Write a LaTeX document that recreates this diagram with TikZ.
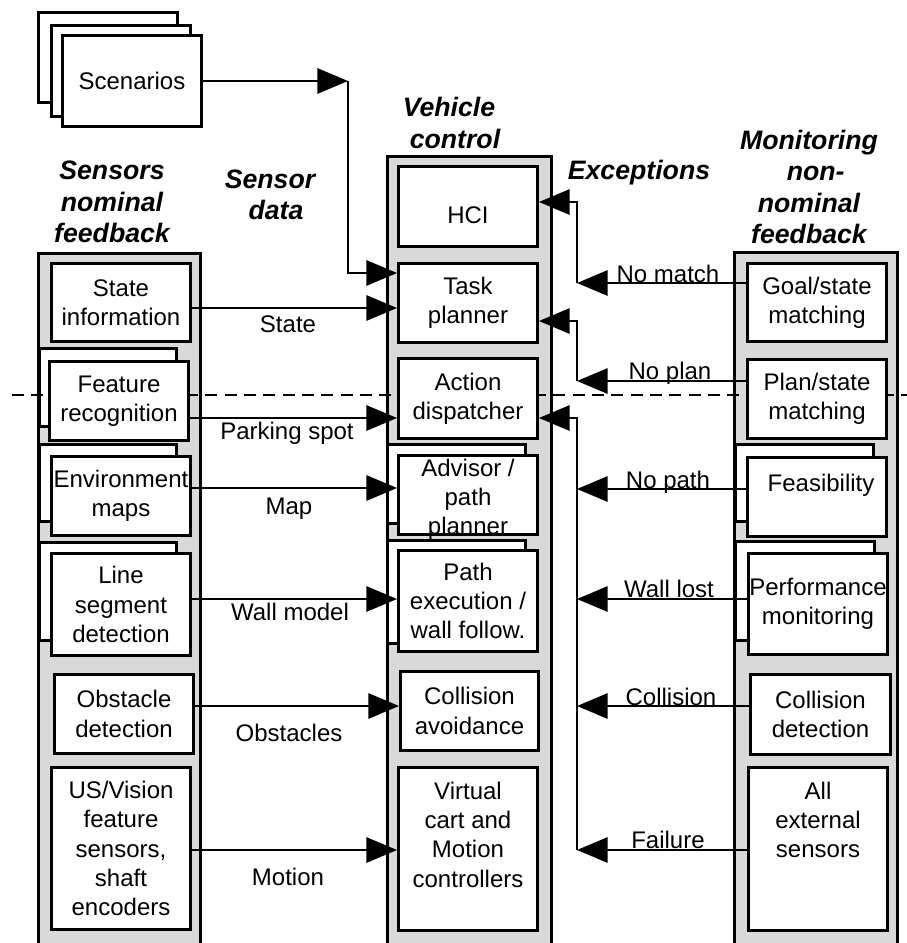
\documentclass[tikz,border=0pt]{standalone}
\usepackage{fontspec}
\setmainfont{Liberation Sans}
\usetikzlibrary{arrows.meta}

% \mkbox[options]{name}{x1}{y1}{x2}{y2}{text}: framed block given by its outer corners
\newcommand{\mkbox}[7][]{%
  \pgfmathsetmacro\bxc{(#3+#5)/2}%
  \pgfmathsetmacro\byc{(#4+#6)/2}%
  \pgfmathsetmacro\bxw{(#5-#3-3)*0.75}%
  \pgfmathsetmacro\byh{(#6-#4-3)*0.75}%
  \node[box,minimum width=\bxw pt,minimum height=\byh pt,#1] (#2) at (\bxc,\byc) {#7};}

\tikzset{
  box/.style={draw, line width=2.25pt, fill=white, inner sep=0pt, align=center,
              font=\fontsize{18}{22}\selectfont},
  panel/.style={draw, line width=2.25pt, fill=gray!30},
  arr/.style={line width=1.5pt, -{Triangle[length=23pt,width=19pt]}},
  lbl/.style={font=\fontsize{18}{22}\selectfont, inner sep=0pt, anchor=base},
  ttl/.style={font=\fontsize{20}{23.5}\bfseries\itshape\selectfont, align=center, inner sep=0pt},
  sep/.style={line width=1.8pt, dash pattern=on 9pt off 5.5pt},
}

\begin{document}
\begin{tikzpicture}[x=0.75pt,y=-0.75pt]
\path[use as bounding box] (0,0) rectangle (907,943);
\clip (0,0) rectangle (907,943);

% column panels
\draw[panel] (38.5,253.5) rectangle (200.5,960);
\draw[panel] (387.5,156.5) rectangle (551.5,960);
\draw[panel] (734.5,252.5) rectangle (897.5,960);

% column titles
\node[ttl] (t-sens) at (112,202) {Sensors\\nominal\\feedback};
\node[ttl] (t-data) at (270,195) {Sensor\\\hspace*{9pt}data};
\node[ttl] (t-veh)  at (449,123) {Vehicle\\\hspace*{9pt}control};
\node[ttl] (t-exc)  at (639,173) {Exceptions};
\node[ttl] (t-mon)  at (809,187) {Monitoring\\\hspace*{10pt}non-\\nominal\\feedback};

% scenario stack
\mkbox{scb2}{37}{11}{179}{104}{}
\mkbox{scb1}{50}{24}{192}{118}{}
\mkbox{sc}{61}{34}{203}{128}{Scenarios}

% stacked blocks behind the front ones
\mkbox{frb}{38}{347}{178}{428}{}
\mkbox{emb}{38}{443}{178}{523}{}
\mkbox{lsb}{38}{541}{178}{642}{}
\mkbox{appb}{386}{443}{527}{525}{}
\mkbox{peb}{386}{539}{527}{645}{}
\mkbox{feb}{734}{443}{875}{523}{}
\mkbox{pmb}{734}{540}{876}{642}{}

% level separator
\draw[sep] (12,395) -- (907,395);

% sensor column
\mkbox{si}{50}{262}{192}{343}{State\\information}
\mkbox{fr}{48}{360}{190}{442}{Feature\\recognition}
\mkbox{em}{50}{455}{192}{537}{Environment\\maps}
\mkbox{ls}{50}{552}{192}{657}{Line\\segment\\detection}
\mkbox{od}{53}{673}{195}{755}{Obstacle\\detection}
\mkbox{us}{50}{766}{192}{931}{US/Vision\\feature\\sensors,\\shaft\\encoders}

% vehicle control column
\mkbox[text height=25.7pt,text depth=0pt]{hci}{397}{165}{539}{248}{HCI}
\mkbox{tp}{397}{262}{539}{344}{Task\\planner}
\mkbox{ad}{397}{357}{539}{440}{Action\\dispatcher}
\mkbox[text height=59.95pt,text depth=-0.95pt]{app}{397}{454}{539}{536}{Advisor /\\path\\planner}
\mkbox{pe}{397}{549}{539}{653}{Path\\execution /\\wall follow.}
\mkbox{ca}{399}{670}{540}{752}{Collision\\avoidance}
\mkbox{vc}{397}{766}{539}{932}{Virtual\\cart and\\Motion\\controllers\\\mbox{}}

% monitoring column
\mkbox{gs}{746}{262}{888}{343}{Goal/state\\matching}
\mkbox{ps}{746}{358}{888}{440}{Plan/state\\matching}
\mkbox{fe}{746}{456}{888}{538}{\hspace*{6pt}Feasibility\\\mbox{}}
\mkbox{pm}{747}{552}{889}{656}{Performance\\monitoring}
\mkbox{cd}{749}{673}{892}{756}{Collision\\detection}
\mkbox{ae}{747}{766}{889}{932}{All\\external\\sensors\\\mbox{}\\\mbox{}}

% junction points
\coordinate (sj) at (348,81);
\coordinate (ja) at (577,283);
\coordinate (jb) at (577,381);
\coordinate (jc) at (577,489);
\coordinate (jd) at (577,599);
\coordinate (je) at (577,706);
\coordinate (jf) at (577,850);

% scenarios into the task planner
\draw[arr] (sc.east) -- (sj);
\draw[arr] (sj) |- (tp.west |- 0,273);

% sensor data
\draw[arr] (si.east |- 0,308) -- (tp.west |- 0,308);
\draw[arr] (fr.east |- 0,418) -- (ad.west |- 0,418);
\draw[arr] (em.east |- 0,488) -- (app.west |- 0,488);
\draw[arr] (ls.east |- 0,599) -- (pe.west |- 0,599);
\draw[arr] (od.east |- 0,706) -- (ca.west |- 0,706);
\draw[arr] (us.east |- 0,850) -- (vc.west |- 0,850);

\node[lbl] (l-state) at (288,332) {State};
\node[lbl] (l-park)  at (287,439) {Parking spot};
\node[lbl] (l-map)   at (289,514) {Map};
\node[lbl] (l-wall)  at (290,620) {Wall model};
\node[lbl] (l-obst)  at (289,741) {Obstacles};
\node[lbl] (l-mot)   at (288,885) {Motion};

% exceptions
\draw[arr] (gs.west |- 0,283) -- (ja);
\draw[arr] (ja) |- (hci.east |- 0,202);
\draw[arr] (ps.west |- 0,381) -- (jb);
\draw[arr] (jb) |- (tp.east |- 0,321);
\draw[arr] (fe.west |- 0,489) -- (jc);
\draw[arr] (pm.west |- 0,599) -- (jd);
\draw[arr] (cd.west |- 0,706) -- (je);
\draw[arr] (ae.west |- 0,850) -- (jf);
\draw[arr] (jf) |- (ad.east |- 0,418);

\node[lbl] (l-nomatch) at (668,282) {No match};
\node[lbl] (l-noplan)  at (670,379) {No plan};
\node[lbl] (l-nopath)  at (668,488) {No path};
\node[lbl] (l-wlost)   at (669,597) {Wall lost};
\node[lbl] (l-coll)    at (671,705) {Collision};
\node[lbl] (l-fail)    at (668,848) {Failure};
\end{tikzpicture}
\end{document}
